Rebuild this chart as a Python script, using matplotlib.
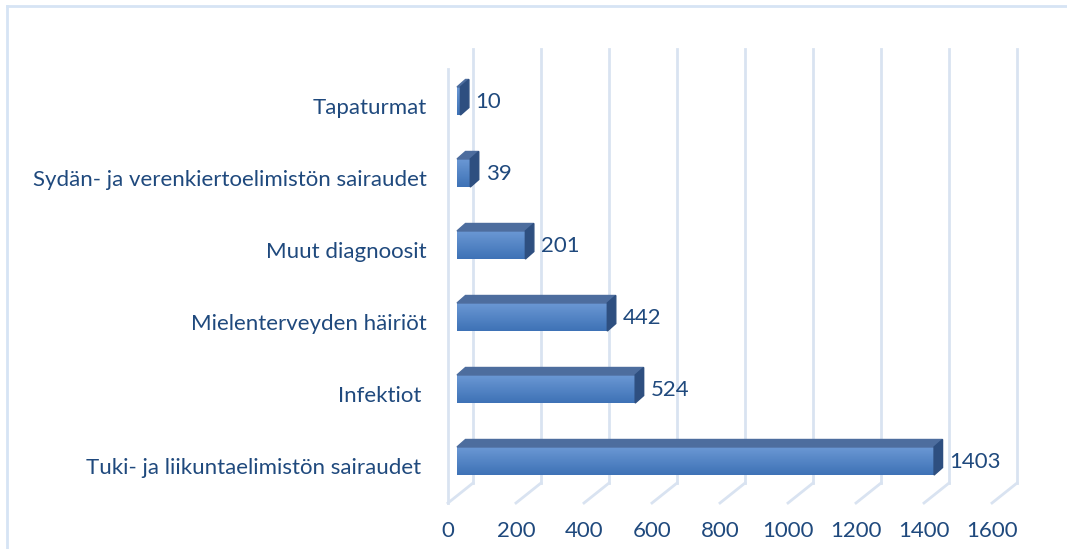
import matplotlib.pyplot as plt
import numpy as np
from matplotlib.patches import Polygon
from matplotlib.colors import LinearSegmentedColormap

categories = ['Tuki- ja liikuntaelimistön sairaudet ', 'Infektiot ',
              'Mielenterveyden häiriöt', 'Muut diagnoosit',
              'Sydän- ja verenkiertoelimistön sairaudet', 'Tapaturmat']
values = [1403, 524, 442, 201, 39, 10]
ticks = [0, 200, 400, 600, 800, 1000, 1200, 1400, 1600]

text_col = '#1F497D'
grid_col = '#D9E3F1'
fs = 16

W, H = 1067, 549
fig = plt.figure(figsize=(W / 100, H / 100), dpi=100)
ax = fig.add_axes([0, 0, 1, 1])
# 0.34 px per unit on x, 72 px per category on y
ax.set_xlim(-1344, 1794)
ax.set_ylim(-1.222, 6.403)
ax.axis('off')

# 3d offsets (data units)
bdx, bdy = 25, 0.104          # bar depth
fdx, fdy = -26.5, -0.097      # front wall
kdx, kdy = 47, 0.18           # back wall
floor, top = -0.486, 5.54

# gridlines on back wall + floor diagonals
for t in ticks:
    ax.plot([t + kdx, t + kdx], [floor + kdy, top + kdy], color=grid_col, lw=2, zorder=1)
    ax.plot([t + kdx, t + fdx], [floor + kdy, floor + fdy], color=grid_col, lw=2, zorder=1)
    ax.text(t + fdx, -0.972, str(t), ha='center', va='center', fontsize=fs,
            color=text_col, family='Lato')
ax.plot([fdx, fdx], [floor + fdy, top + fdy], color=grid_col, lw=2, zorder=1)

# bars
y = np.arange(len(values))
h = 0.39
bars = ax.barh(y, values, height=h, color='#4A7FC1', zorder=3)
cmap = LinearSegmentedColormap.from_list('g', ['#6C99D5', '#3E72B6'])
grad = np.linspace(0, 1, 64).reshape(-1, 1)
for yi, v, b in zip(y, values, bars):
    im = ax.imshow(grad, cmap=cmap, extent=[0, v, yi - h / 2, yi + h / 2],
                   aspect='auto', origin='upper', zorder=3.1)
    im.set_clip_path(b)
    topf = Polygon([(0, yi + h / 2), (v, yi + h / 2), (v + bdx, yi + h / 2 + bdy),
                    (bdx, yi + h / 2 + bdy)], closed=True, color='#4D6D9E', zorder=3.2)
    side = Polygon([(v, yi - h / 2), (v, yi + h / 2), (v + bdx, yi + h / 2 + bdy),
                    (v + bdx, yi - h / 2 + bdy)], closed=True, color='#2E4F80', zorder=3.2)
    ax.add_patch(topf)
    ax.add_patch(side)
    ax.text(v + 45, yi - 0.01, str(v), ha='left', va='center', fontsize=fs,
            color=text_col, family='Lato')
    ax.text(-88, yi + fdy, categories[yi], ha='right', va='center', fontsize=fs,
            color=text_col, family='Lato')

ax.set_xlim(-1344, 1794)
ax.set_ylim(-1.222, 6.403)

# chart border
fig.add_artist(plt.Line2D([7 / W, 7 / W], [0, 1 - 6 / H], transform=fig.transFigure,
                          color='#D6E4F4', lw=2))
fig.add_artist(plt.Line2D([7 / W, 1], [1 - 6 / H, 1 - 6 / H], transform=fig.transFigure,
                          color='#D6E4F4', lw=2))

fig.savefig('out.png', dpi=100)
